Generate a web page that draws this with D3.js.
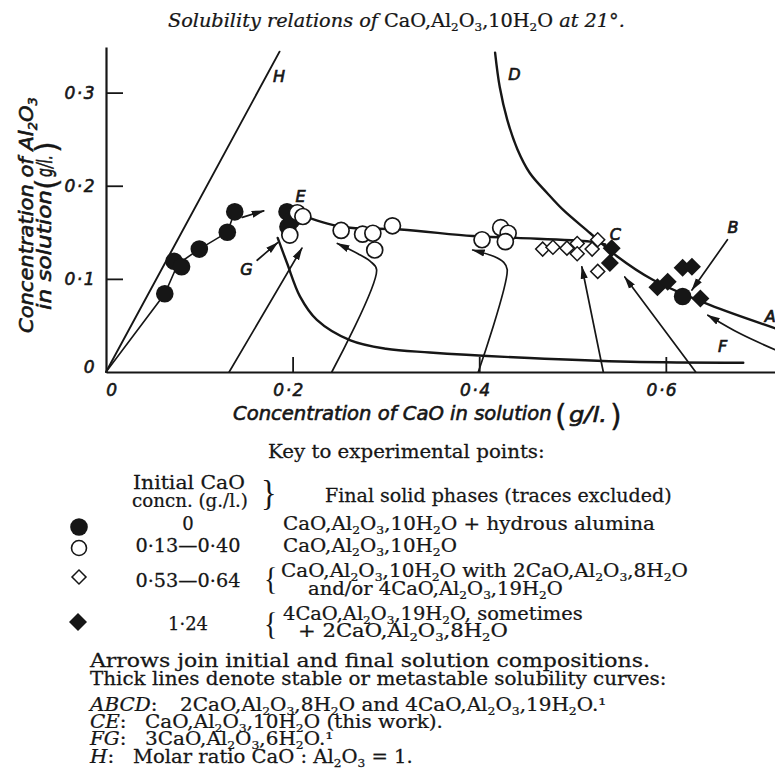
<!DOCTYPE html>
<html><head><meta charset="utf-8">
<script src="https://cdn.jsdelivr.net/npm/d3@7/dist/d3.min.js"></script>
<style>html,body{margin:0;padding:0;background:#fff;} svg{display:block;}</style>
</head><body>
<script>
// ---------------- data ----------------
const xTickValues = [0, 0.2, 0.4, 0.6];
const yTickValues = [0, 0.1, 0.2, 0.3];

// experimental points [CaO g/l, Al2O3 g/l]
const filledCircles = [[0.063,0.084],[0.073,0.119],[0.081,0.113],[0.100,0.132],[0.130,0.150],[0.138,0.172],
  [0.194,0.172],[0.195,0.156],[0.199,0.163],[0.618,0.081]];
const openCircles = [[0.205,0.171],[0.211,0.167],[0.197,0.147],[0.252,0.152],[0.275,0.148],[0.286,0.149],
  [0.288,0.131],[0.307,0.157],[0.403,0.142],[0.423,0.155],[0.431,0.149],[0.428,0.140]];
const openDiamonds = [[0.468,0.132],[0.479,0.134],[0.494,0.133],[0.505,0.138],[0.505,0.127],[0.521,0.132],
  [0.527,0.142],[0.527,0.108]];
const filledDiamonds = [[0.542,0.133],[0.540,0.117],[0.591,0.091],[0.602,0.097],[0.618,0.112],[0.628,0.113],[0.637,0.079]];

// curves
const curveH = [[0,0],[0.186,0.344]];
const curveABCD = [[0.417,0.343],[0.422,0.306],[0.430,0.271],[0.441,0.239],[0.454,0.214],[0.473,0.192],
  [0.490,0.174],[0.519,0.149],[0.548,0.124],[0.586,0.099],[0.647,0.072],[0.720,0.046]];
const curveCE = [[0.205,0.170],[0.252,0.156],[0.316,0.153],[0.393,0.146],[0.440,0.144],[0.519,0.140],[0.535,0.137]];
const curveFG = [[0.184,0.144],[0.194,0.117],[0.208,0.081],[0.226,0.056],[0.262,0.034],[0.300,0.025],
  [0.347,0.021],[0.454,0.015],[0.562,0.011],[0.683,0.010]];
const zeroSeriesLine = [[0,0],[0.063,0.084],[0.077,0.116],[0.100,0.132],[0.130,0.150],[0.138,0.172]];

// arrows (initial -> final compositions, and label pointers)
const arrows = [
  [[0.146,0.166],[0.169,0.173]],
  [[0.162,0.120],[0.184,0.139]],
  [[0.132,0],[0.210,0.133]],
  [[0.242,0],[0.290,0.110],[0.283,0.119],[0.270,0.127],[0.248,0.138]],
  [[0.399,0],[0.430,0.110],[0.426,0.118],[0.416,0.124],[0.393,0.131]],
  [[0.533,0],[0.510,0.113]],
  [[0.632,0],[0.556,0.102]],
  [[0.666,0.142],[0.628,0.088]],
  [[0.717,0.024],[0.680,0.041],[0.645,0.061]]
];

const curveLabels = [
  {t:"H", p:[0.179,0.311]}, {t:"D", p:[0.431,0.314]}, {t:"E", p:[0.203,0.183]},
  {t:"G", p:[0.144,0.104]}, {t:"C", p:[0.540,0.142]}, {t:"B", p:[0.666,0.149]},
  {t:"A", p:[0.706,0.054]}, {t:"F", p:[0.656,0.022]}
];

const titleText = "*Solubility relations of* CaO,Al_2O_3,10H_2O *at 21°.*";
const keyTitle = "Key to experimental points:";
const keyHeadLeft = ["Initial CaO", "concn. (g./l.)"];
const keyHeadRight = "Final solid phases (traces excluded)";
const keyConc = ["0", "0·13—0·40", "0·53—0·64", "1·24"];
const keySymbols = ["filledCircle", "openCircle", "openDiamond", "filledDiamond"];
const keyPhases = [
  ["CaO,Al_2O_3,10H_2O + hydrous alumina"],
  ["CaO,Al_2O_3,10H_2O"],
  ["CaO,Al_2O_3,10H_2O with 2CaO,Al_2O_3,8H_2O", "and/or 4CaO,Al_2O_3,19H_2O"],
  ["4CaO,Al_2O_3,19H_2O, sometimes", "+ 2CaO,Al_2O_3,8H_2O"]
];
const notes = ["Arrows join initial and final solution compositions.",
  "Thick lines denote stable or metastable solubility curves:"];
const curveNotesKey = ["*ABCD*:", "*CE*:", "*FG*:", "*H*:"];
const curveNotesText = ["2CaO,Al_2O_3,8H_2O and 4CaO,Al_2O_3,19H_2O.¹",
  "CaO,Al_2O_3,10H_2O (this work).", "3CaO,Al_2O_3,6H_2O.¹", "Molar ratio CaO : Al_2O_3 = 1."];

// ---------------- drawing ----------------
const W = 775, H = 784, ink = "#161616";
const SERIF = "'DejaVu Serif', serif";
const SANS = "'DejaVu Sans', sans-serif";
const svg = d3.select("body").append("svg").attr("width", W).attr("height", H);
svg.append("rect").attr("width", W).attr("height", H).attr("fill", "#fff");

const x = d3.scaleLinear().domain([0, 0.717]).range([106, 775]);
const y = d3.scaleLinear().domain([0, 0.349]).range([372, 47]);

function rich(t, str, fs, baseItalic) {
  let italic = !!baseItalic, shift = 0, buf = "", i = 0;
  const flush = () => {
    if (!buf) return;
    const s = t.append("tspan").text(buf).attr("font-style", italic ? "italic" : "normal");
    if (shift !== 0) { s.attr("dy", -shift); shift = 0; }
    buf = "";
  };
  while (i < str.length) {
    const c = str[i];
    if (c === "*") { flush(); italic = !italic; i++; continue; }
    if (c === "_") {
      flush();
      const target = fs * 0.22;
      t.append("tspan").text(str[i+1]).attr("font-size", fs*0.62)
        .attr("font-style", italic ? "italic" : "normal").attr("dy", target - shift);
      shift = target; i += 2; continue;
    }
    buf += c; i++;
  }
  flush();
}

function placeText(parent, str, o) {
  const g = parent.append("g");
  const t = g.append("text").attr("font-family", o.family).attr("font-size", o.size)
    .attr("fill", ink).style("white-space", "pre");
  if (o.weight) t.attr("font-weight", o.weight);
  if (o.spacing) t.attr("letter-spacing", o.spacing);
  if (o.stroke) t.attr("stroke", ink).attr("stroke-width", o.stroke);
  rich(t, str, o.size, o.italic);
  const w = t.node().getComputedTextLength();
  const s = o.width ? o.width / w : (o.sx || 1);
  const anchor = o.anchor || "start";
  const off = anchor === "middle" ? -w/2 : anchor === "end" ? -w : 0;
  t.attr("x", off);
  g.attr("transform", `translate(${o.x},${o.y}) rotate(${o.rotate||0}) scale(${s},1)`);
  return {g, w, s};
}

// defs: arrow marker
const defs = svg.append("defs");
defs.append("marker").attr("id", "ah").attr("viewBox", "0 -5 13 10").attr("refX", 12).attr("refY", 0)
  .attr("markerWidth", 13).attr("markerHeight", 10).attr("markerUnits", "userSpaceOnUse")
  .attr("orient", "auto").append("path").attr("d", "M0,-3.6L13,0L0,3.6Z").attr("fill", ink);

const line = d3.line().x(d => x(d[0])).y(d => y(d[1])).curve(d3.curveCatmullRom.alpha(0.5));
const lineLin = d3.line().x(d => x(d[0])).y(d => y(d[1]));

// axes
const fmt = d => d === 0 ? "0" : d.toFixed(1).replace(".", "·");
const gx = svg.append("g").attr("transform", `translate(0,${y(0)})`)
  .call(d3.axisBottom(x).tickValues(xTickValues).tickSizeInner(-15).tickSizeOuter(0).tickFormat(fmt));
const gy = svg.append("g").attr("transform", `translate(${x(0)},0)`)
  .call(d3.axisLeft(y).tickValues(yTickValues).tickSizeInner(-17).tickSizeOuter(0).tickFormat(fmt));
[gx, gy].forEach(g => {
  g.select(".domain").attr("stroke", ink).attr("stroke-width", 2.2);
  g.selectAll(".tick line").attr("stroke", ink).attr("stroke-width", 1.8);
  g.selectAll(".tick").filter(d => d === 0).select("line").remove();
  g.selectAll(".tick text").attr("fill", ink).attr("font-family", SANS).attr("font-style", "italic")
    .attr("font-size", 17).attr("letter-spacing", 1.5).attr("stroke", ink).attr("stroke-width", 0.6);
});
gx.selectAll(".tick text").attr("dy", null).attr("y", 24).attr("x", d => d === 0 ? 6 : -4).attr("text-anchor", "middle");
gy.selectAll(".tick text").attr("x", -10).attr("dy", d => d === 0 ? "0.0em" : "0.35em");

// curves
const gc = svg.append("g").attr("fill", "none").attr("stroke", ink).attr("stroke-linecap", "round");
gc.append("path").attr("d", lineLin(curveH)).attr("stroke-width", 1.9);
gc.append("path").attr("d", lineLin(zeroSeriesLine)).attr("stroke-width", 1.6);
gc.append("path").attr("d", line(curveABCD)).attr("stroke-width", 2.4);
gc.append("path").attr("d", line(curveCE)).attr("stroke-width", 2.4);
gc.append("path").attr("d", line(curveFG)).attr("stroke-width", 2.4);
gc.selectAll(".arrow").data(arrows).join("path").attr("class", "arrow")
  .attr("d", d => d.length > 2 ? line(d) : lineLin(d)).attr("stroke-width", 1.7).attr("marker-end", "url(#ah)");

// points
const sqFilled = d3.symbol(d3.symbolSquare, 162);
const sqOpen = d3.symbol(d3.symbolSquare, 98);
const gp = svg.append("g");
gp.selectAll(".fc").data(filledCircles).join("circle").attr("cx", d => x(d[0])).attr("cy", d => y(d[1]))
  .attr("r", 8.8).attr("fill", ink);
gp.selectAll(".oc").data(openCircles).join("circle").attr("cx", d => x(d[0])).attr("cy", d => y(d[1]))
  .attr("r", 8).attr("fill", "#fff").attr("stroke", ink).attr("stroke-width", 1.7);
gp.selectAll(".od").data(openDiamonds).join("path").attr("d", sqOpen)
  .attr("transform", d => `translate(${x(d[0])},${y(d[1])}) rotate(45)`)
  .attr("fill", "#fff").attr("stroke", ink).attr("stroke-width", 1.5);
gp.selectAll(".fd").data(filledDiamonds).join("path").attr("d", sqFilled)
  .attr("transform", d => `translate(${x(d[0])},${y(d[1])}) rotate(45)`).attr("fill", ink);

// curve labels
svg.append("g").selectAll("text").data(curveLabels).join("text")
  .attr("x", d => x(d.p[0])).attr("y", d => y(d.p[1])).text(d => d.t)
  .attr("font-family", SANS).attr("font-style", "italic").attr("font-size", 16)
  .attr("fill", ink).attr("stroke", ink).attr("stroke-width", 0.7);

// axis titles
const lab = svg.append("g");
const LS = 0.6;
placeText(lab, "Concentration of CaO in solution", {x:233, y:420, size:19, family:SANS, italic:true, width:319, stroke:LS});
placeText(lab, "(", {x:555, y:426, size:30, family:SANS, stroke:0.3});
placeText(lab, "g/l.", {x:569, y:422, size:21, family:SANS, italic:true, width:38, stroke:LS});
placeText(lab, ")", {x:610, y:426, size:30, family:SANS, stroke:0.3});

placeText(lab, "Concentration of Al_2O_3", {x:33, y:333, size:19, family:SANS, italic:true, width:236, rotate:-90, stroke:LS});
placeText(lab, "in solution", {x:51, y:310, size:19, family:SANS, italic:true, width:120, rotate:-90, stroke:LS});
placeText(lab, "(", {x:57, y:190, size:30, family:SANS, rotate:-90, stroke:0.3});
placeText(lab, "g/l.", {x:52, y:177, size:21, family:SANS, italic:true, width:22, rotate:-90, stroke:LS});
placeText(lab, ")", {x:57, y:153, size:30, family:SANS, rotate:-90, stroke:0.3});

// ---------------- legend / caption text ----------------
const gt = svg.append("g");
const FS = 18, TS = 0.25;
const T = (str, o) => placeText(gt, str, Object.assign({size:FS, family:SERIF, stroke:TS}, o));

T(titleText, {x:168, y:27, size:18, width:457});
T(notes[0], {x:90, y:667, width:560});
T(notes[1], {x:90, y:685, width:577});
T(keyTitle, {x:268, y:458, width:277});
T(keyHeadLeft[0], {x:189, y:489, width:112, anchor:"middle"});
T(keyHeadLeft[1], {x:190, y:507, width:116, anchor:"middle"});
T("}", {x:261, y:505, size:36, family:"'Liberation Serif', serif", sx:0.9, stroke:0});
T(keyHeadRight, {x:325, y:502, width:347});

const concY = [530, 552, 587, 630];
const concW = [null, 105, 105, 40];
const symY = [527, 548, 577, 622];
const phaseLines = [[[283,530,372]], [[283,552,174]], [[281,577,407],[308,595,255]], [[283,620,300],[298,637,210]]];
const sxs = [];
keyConc.forEach((c, i) => {
  T(c, {x:188, y:concY[i], width:concW[i], sx:1, anchor:"middle"});
  keyPhases[i].forEach((p, j) => {
    const [px, py, pw] = phaseLines[i][j];
    sxs.push(T(p, {x:px, y:py, width:pw}).s);
  });
  if (keyPhases[i].length > 1) {
    T("{", {x:264, y:symY[i] + 13, size:31, family:"'Liberation Serif', serif", sx:0.9, stroke:0});
  }
  const sx0 = 79, sy0 = symY[i];
  const t = keySymbols[i];
  if (t === "filledCircle") gt.append("circle").attr("cx", sx0).attr("cy", sy0).attr("r", 8.8).attr("fill", ink);
  if (t === "openCircle") gt.append("circle").attr("cx", sx0).attr("cy", sy0).attr("r", 7.5).attr("fill", "#fff").attr("stroke", ink).attr("stroke-width", 1.6);
  if (t === "openDiamond") gt.append("path").attr("d", sqOpen).attr("transform", `translate(${sx0},${sy0}) rotate(45)`).attr("fill", "#fff").attr("stroke", ink).attr("stroke-width", 1.5);
  if (t === "filledDiamond") gt.append("path").attr("d", sqFilled).attr("transform", `translate(${sx0-1},${sy0}) rotate(45)`).attr("fill", ink);
});
const SXavg = d3.mean(sxs);

const noteY = [711, 728, 745, 763];
const noteX = [180, 145, 145, 133];
const noteW = [null, null, null, 280];
curveNotesKey.forEach((k, i) => {
  T(k, {x:90, y:noteY[i], sx:SXavg});
  T(curveNotesText[i], {x:noteX[i], y:noteY[i], width:noteW[i], sx:SXavg});
});
</script>
</body></html>
